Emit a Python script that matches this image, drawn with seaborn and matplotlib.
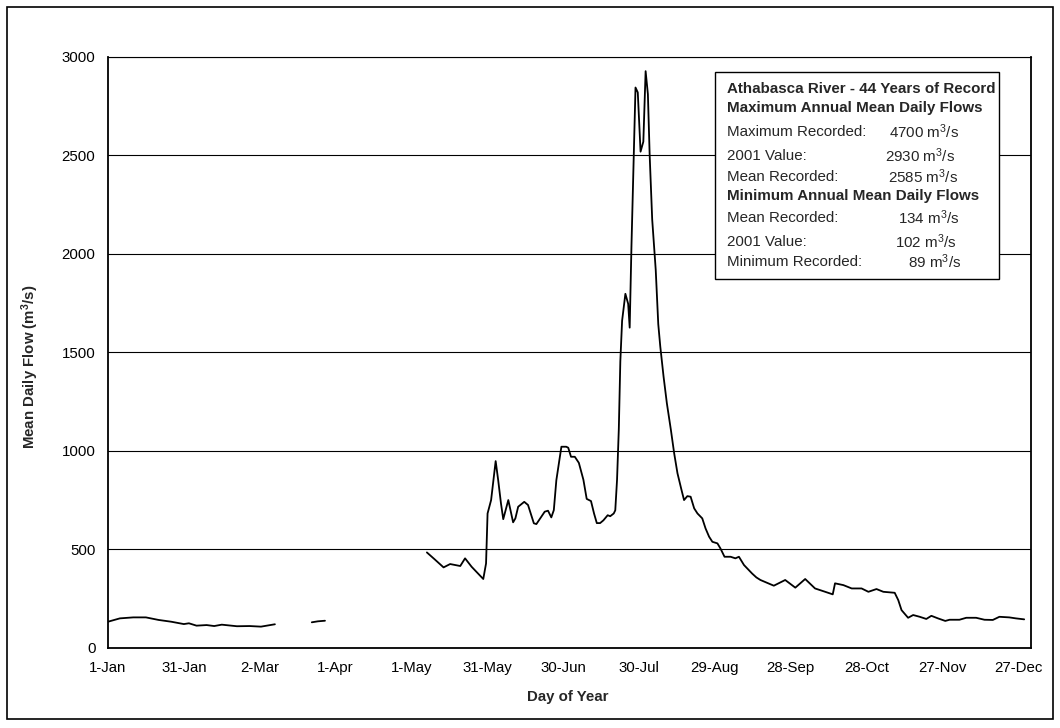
import numpy as np
import pandas as pd
import matplotlib
matplotlib.use("Agg")
import matplotlib.pyplot as plt
import seaborn as sns
from matplotlib.patches import Rectangle

# ---------------- data ----------------
winter_days = [0, 4.7, 10, 15, 20, 25, 30, 32, 35, 39, 42, 45, 51, 56, 60.5, 66]
winter_flow = [131, 148, 153, 153, 140, 131, 119, 123, 111, 114, 109, 116, 108, 109, 106, 118]

march_days = [80.6, 83.0, 85.8]
march_flow = [128, 133, 136]

open_days = [126.1, 129.0, 132.7, 135.3, 139.3, 141.2, 143.8, 148.4, 149.5, 150.1, 151.5,
             153.3, 154.3, 155.4, 156.3, 158.3, 160.2, 161.1, 162.2, 164.6, 166.1, 168.4,
             169.4, 172.7, 174.0, 175.3, 176.3, 177.3, 178.6, 179.3, 181.2, 182.0, 183.1,
             184.6, 186.2, 188.0, 189.3, 191.0, 192.2, 193.3, 194.6, 195.9, 197.6, 198.6,
             200.0, 200.6, 201.3, 202.0, 202.6, 203.3, 204.6, 205.7, 206.3, 207.0, 207.9,
             208.6, 209.5, 210.6, 211.7, 212.6, 213.5, 214.2, 215.2, 216.6, 217.6, 218.4,
             219.7, 221.0, 222.6, 223.9, 225.2, 226.8, 227.8, 229.1, 230.4, 231.8, 233.1,
             235.0, 236.3, 237.7, 239.0, 241.0, 242.2, 243.8, 246.2, 248.1, 249.5, 251.5,
             254.7, 256.4, 258.0, 263.3, 267.8, 271.8, 275.7, 279.6, 283.6, 286.6, 287.5,
             290.8, 294.1, 298.0, 300.7, 303.9, 306.6, 311.1, 312.5, 313.8, 316.4, 318.4,
             321.0, 323.6, 325.6, 328.2, 331.1, 332.8, 336.7, 339.4, 343.3, 346.6, 349.9,
             352.5, 356.4, 359.0, 362.3]
open_flow = [483, 450, 407, 424, 414, 453, 410, 348, 427, 681, 749,
             947, 850, 732, 652, 749, 636, 656, 715, 740, 724, 631,
             627, 690, 695, 661, 698, 850, 961, 1020, 1020, 1015, 969,
             969, 938, 852, 755, 744, 681, 632, 632, 646, 672, 667,
             681, 697, 852, 1110, 1454, 1660, 1797, 1746, 1625, 2038, 2493,
             2845, 2820, 2519, 2570, 2928, 2811, 2502, 2175, 1918, 1643, 1529,
             1376, 1241, 1105, 986, 885, 800, 749, 769, 766, 707, 681,
             656, 605, 563, 537, 529, 503, 461, 461, 453, 461, 419,
             376, 356, 343, 314, 343, 304, 348, 300, 283, 270, 326,
             317, 300, 300, 283, 297, 283, 278, 241, 190, 151, 165,
             156, 145, 161, 148, 135, 141, 141, 151, 151, 141, 140,
             156, 153, 148, 143]

tick_days = [0, 30, 60, 90, 120, 150, 180, 210, 240, 270, 300, 330, 360]
tick_labels = ["1-Jan", "31-Jan", "2-Mar", "1-Apr", "1-May", "31-May", "30-Jun",
               "30-Jul", "29-Aug", "28-Sep", "28-Oct", "27-Nov", "27-Dec"]
y_ticks = [0, 500, 1000, 1500, 2000, 2500, 3000]

box_title = "Athabasca River - 44 Years of Record"
max_header = "Maximum Annual Mean Daily Flows"
min_header = "Minimum Annual Mean Daily Flows"
max_rows = [("Maximum Recorded:", "4700"), ("2001 Value:", "2930"), ("Mean Recorded:", "2585")]
min_rows = [("Mean Recorded:", "134"), ("2001 Value:", "102"), ("Minimum Recorded:", "89")]

# ---------------- style ----------------
sns.set_style("white")
plt.rcParams["font.family"] = ["Liberation Sans", "DejaVu Sans"]
plt.rcParams["mathtext.fontset"] = "custom"
plt.rcParams["mathtext.rm"] = "Liberation Sans"
plt.rcParams["mathtext.bf"] = "Liberation Sans:bold"
plt.rcParams["mathtext.default"] = "regular"

W, H = 1060, 728
fig = plt.figure(figsize=(W / 100, H / 100), dpi=100)
fig.patch.set_facecolor("white")

def fx(px):
    return px / W

def fy(py):
    return 1 - py / H

ax_left, ax_right, ax_top, ax_bottom = 108, 1031, 57, 647.5
ax = fig.add_axes([fx(ax_left), fy(ax_bottom), fx(ax_right) - fx(ax_left), fy(ax_top) - fy(ax_bottom)])

frames = []
for name, d, f in [("winter", winter_days, winter_flow),
                   ("march", march_days, march_flow),
                   ("open", open_days, open_flow)]:
    frames.append(pd.DataFrame({"day": d, "flow": f, "segment": name}))
df = pd.concat(frames, ignore_index=True)

sns.lineplot(data=df, x="day", y="flow", units="segment", estimator=None,
             color="black", lw=1.3, ax=ax, legend=False)

ax.set_xlim(0, 365)
ax.set_ylim(0, 3000)
ax.set_xticks(tick_days)
ax.set_xticklabels(tick_labels)
ax.set_yticks(y_ticks)
ax.yaxis.grid(True, color="black", lw=0.8)
ax.xaxis.grid(False)
ax.set_axisbelow(True)
ax.tick_params(axis="both", direction="out", length=5, width=1, labelsize=10.8,
               color="black", labelcolor="black")
ax.tick_params(axis="x", pad=5)
ax.tick_params(axis="y", pad=4)
for s in ["left", "bottom", "right"]:
    ax.spines[s].set_color("black")
    ax.spines[s].set_linewidth(1.3)
ax.spines["top"].set_color("black")
ax.spines["top"].set_linewidth(0.8)

ax.set_xlabel("Day of Year", fontsize=10.8, fontweight="bold")
ax.set_ylabel("Mean Daily Flow (m$^3$/s)", fontsize=10.8, fontweight="bold")
ax.xaxis.set_label_coords((568 - ax_left) / (ax_right - ax_left),
                          (ax_bottom - 697) / (ax_bottom - ax_top))
ax.yaxis.set_label_coords((30 - ax_left) / (ax_right - ax_left),
                          (ax_bottom - 367) / (ax_bottom - ax_top))
ax.xaxis.label.set_va("center")
ax.yaxis.label.set_va("center")

# outer chart border
fig.patches.append(Rectangle((fx(7), fy(719)), fx(1053) - fx(7), fy(7) - fy(719),
                             transform=fig.transFigure, fill=False, lw=1.2, ec="black"))

# info box
fig.patches.append(Rectangle((fx(715), fy(279)), fx(999) - fx(715), fy(72) - fy(279),
                             transform=fig.transFigure, fc="white", lw=1.0, ec="black",
                             zorder=2))
fs = 10.9
tx = fx(727)
fig.text(tx, fy(89), box_title, fontsize=fs, fontweight="bold", va="center", zorder=3)
fig.text(tx, fy(108), max_header, fontsize=fs, fontweight="bold", va="center", zorder=3)
max_y = [132, 156, 177]
max_x = [889, 885, 888]
for (lab, val), yy, xx in zip(max_rows, max_y, max_x):
    fig.text(tx, fy(yy), lab, fontsize=fs, va="center", zorder=3)
    fig.text(fx(xx), fy(yy), val + " m$^3$/s", fontsize=fs, va="center", zorder=3)
fig.text(tx, fy(196), min_header, fontsize=fs, fontweight="bold", va="center", zorder=3)
min_y = [218, 242, 262]
min_x = [898, 895, 908]
for (lab, val), yy, xx in zip(min_rows, min_y, min_x):
    fig.text(tx, fy(yy), lab, fontsize=fs, va="center", zorder=3)
    fig.text(fx(xx), fy(yy), val + " m$^3$/s", fontsize=fs, va="center", zorder=3)

fig.savefig("out.png", dpi=100)
